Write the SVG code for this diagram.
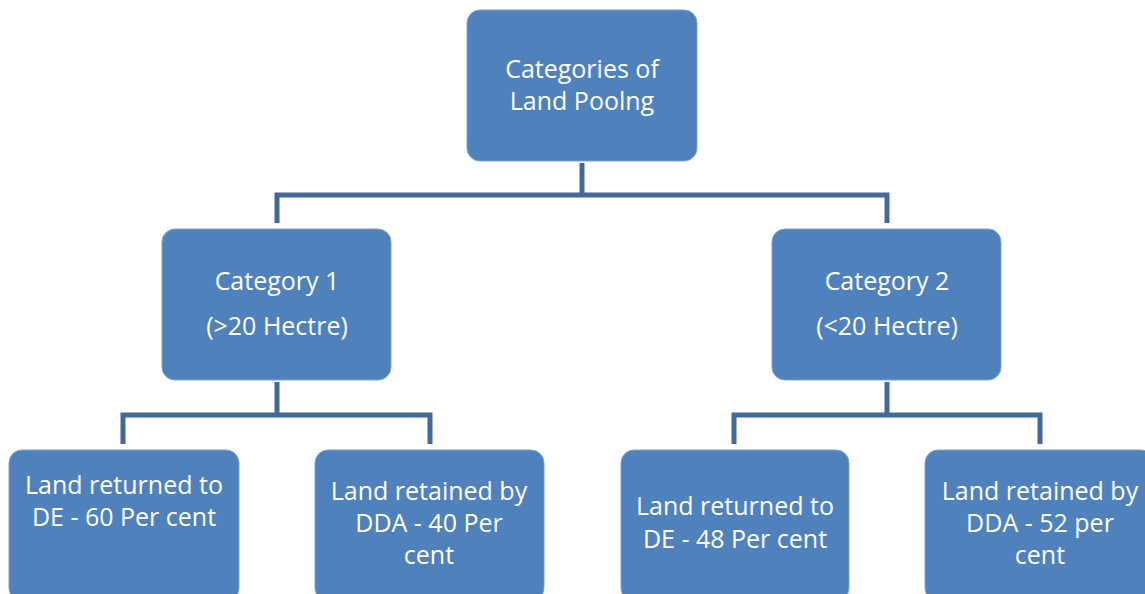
<svg xmlns="http://www.w3.org/2000/svg" width="1145" height="594" viewBox="0 0 1145 594">
<style>
.box{fill:#4F81BD;stroke:#7EA1CD;stroke-width:1}
.t{font-family:"Open Sans","Liberation Sans",Arial,sans-serif;font-size:25px;fill:#FFFFFF;text-anchor:middle}
.c{fill:none;stroke:#41699A;stroke-width:5;stroke-linejoin:miter}
</style>
<rect width="1145" height="594" fill="#FFFFFF"/>
<g id="connectors">
<path class="c" d="M582,163 V195 M277,223 V195 H887 V223"/>
<path class="c" d="M277,382 V415 M123,444 V415 H430 V444"/>
<path class="c" d="M887,382 V415 M734,444 V415 H1040 V444"/>
</g>
<g id="root">
<rect class="box" x="467" y="10" width="230" height="151" rx="13"/>
<text class="t" x="582" y="78">Categories of</text>
<text class="t" x="582" y="110">Land Poolng</text>
</g>
<g id="cat1">
<rect class="box" x="162" y="229" width="229" height="151" rx="13"/>
<text class="t" x="277" y="290">Category 1</text>
<text class="t" x="277" y="335">(&gt;20 Hectre)</text>
</g>
<g id="cat2">
<rect class="box" x="772" y="229" width="229" height="151" rx="13"/>
<text class="t" x="887" y="290">Category 2</text>
<text class="t" x="887" y="335">(&lt;20 Hectre)</text>
</g>
<g id="c1a">
<rect class="box" x="9" y="450" width="230" height="151" rx="13"/>
<text class="t" x="124" y="494">Land returned to</text>
<text class="t" x="124" y="526">DE - 60 Per cent</text>
</g>
<g id="c1b">
<rect class="box" x="315" y="450" width="229" height="151" rx="13"/>
<text class="t" x="429" y="500">Land retained by</text>
<text class="t" x="429" y="532">DDA - 40 Per</text>
<text class="t" x="429" y="564">cent</text>
</g>
<g id="c2a">
<rect class="box" x="621" y="450" width="228" height="151" rx="13"/>
<text class="t" x="735" y="515">Land returned to</text>
<text class="t" x="735" y="548">DE - 48 Per cent</text>
</g>
<g id="c2b">
<rect class="box" x="925" y="450" width="229" height="151" rx="13"/>
<text class="t" x="1040" y="500">Land retained by</text>
<text class="t" x="1040" y="532">DDA - 52 per</text>
<text class="t" x="1040" y="564">cent</text>
</g>
</svg>
